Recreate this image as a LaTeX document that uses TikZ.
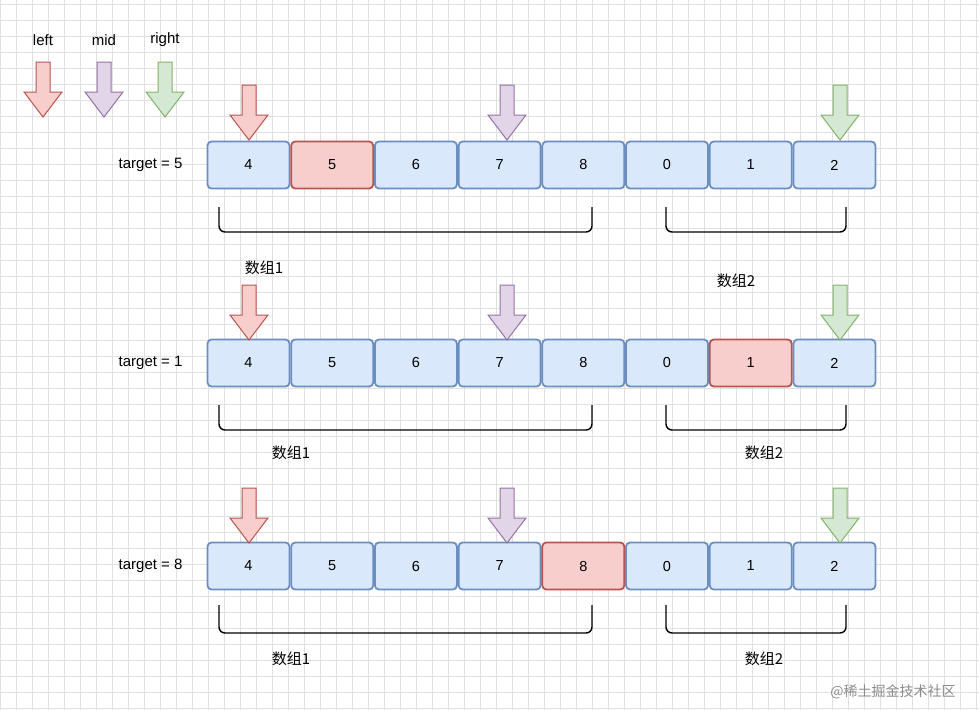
\documentclass[tikz,border=0pt]{standalone}
\usepackage{fontspec}
\setmainfont{Liberation Sans}
\newfontfamily\cjk{Noto Sans CJK SC}
\begin{document}
\begin{tikzpicture}[x=1pt,y=-1pt,
  cell/.style={draw=#1, line width=1.8pt, rounded corners=4pt, minimum width=82pt, minimum height=47pt, inner sep=0, font=\fontsize{14.5}{16}\selectfont},
  brk/.style={draw=black, line width=1.4pt, rounded corners=6pt},
  lbl/.style={font=\fontsize{15}{17}\selectfont},
  grp/.style={font=\cjk\fontsize{15}{17}\selectfont}]
\definecolor{bF}{HTML}{DAE8FC}\definecolor{bS}{HTML}{6C8EBF}
\definecolor{rF}{HTML}{F8CECC}\definecolor{rS}{HTML}{B85450}
\definecolor{pF}{HTML}{E1D5E7}\definecolor{pS}{HTML}{9673A6}
\definecolor{gF}{HTML}{D5E8D4}\definecolor{gS}{HTML}{82B366}
\useasboundingbox (0,0) rectangle (979,710);
\fill[white] (0,0) rectangle (979,710);
\foreach \gx in {0,16,...,976} \draw[black!12, line width=0.5pt] (\gx,0) -- (\gx,710);
\foreach \gy in {4,20,...,708} \draw[black!12, line width=0.5pt] (0,\gy) -- (979,\gy);
\tikzset{darrow/.pic={\path[pic actions] (-7,0) -- (7,0) -- (7,30) -- (19,30) -- (0,55) -- (-19,30) -- (-7,30) -- cycle;}}
\node[lbl] (tl) at (43,40) {left};
\node[lbl] (tm) at (104,40) {mid};
\node[lbl] (tr) at (165,40) {right};
\pic[fill=rF,draw=rS,line width=1pt] at (43,62) {darrow};
\pic[fill=pF,draw=pS,line width=1pt] at (104,62) {darrow};
\pic[fill=gF,draw=gS,line width=1pt] at (165,62) {darrow};
\foreach \r/\cy/\t/\hl/\ay/\bA/\bB/\lA/\lAy/\lBx/\lBy in
 {1/165/5/2/85/207/232/264/268/736/281,
  2/363/1/7/285/405/430/291/453/764/453,
  3/566/8/5/488/605/633/291/659/764/659}{
  \node[lbl,anchor=east] (t\r) at (186,\cy) {target = \t};
  \foreach \v [count=\i] in {4,5,6,7,8,0,1,2}{
    \ifnum\i=\hl
      \node[cell=rS,fill=rF] (c\r-\i) at ({248.5+83.7*(\i-1)},\cy) {\v};
    \else
      \node[cell=bS,fill=bF] (c\r-\i) at ({248.5+83.7*(\i-1)},\cy) {\v};
    \fi
  }
  \pic[fill=rF,draw=rS,line width=1pt] at (249,\ay) {darrow};
  \pic[fill=pF,draw=pS,line width=1pt] at (507,\ay) {darrow};
  \pic[fill=gF,draw=gS,line width=1pt] at (840,\ay) {darrow};
  \draw[brk] (219,\bA) -- (219,\bB) -- (592,\bB) -- (592,\bA);
  \draw[brk] (666,\bA) -- (666,\bB) -- (846,\bB) -- (846,\bA);
  \node[grp] (g\r a) at (\lA,\lAy) {数组1};
  \node[grp] (g\r b) at (\lBx,\lBy) {数组2};
}
\node[font=\cjk\fontsize{14}{16}\selectfont, text=black!45] (wm) at (893,692) {@稀土掘金技术社区};
\end{tikzpicture}
\end{document}
